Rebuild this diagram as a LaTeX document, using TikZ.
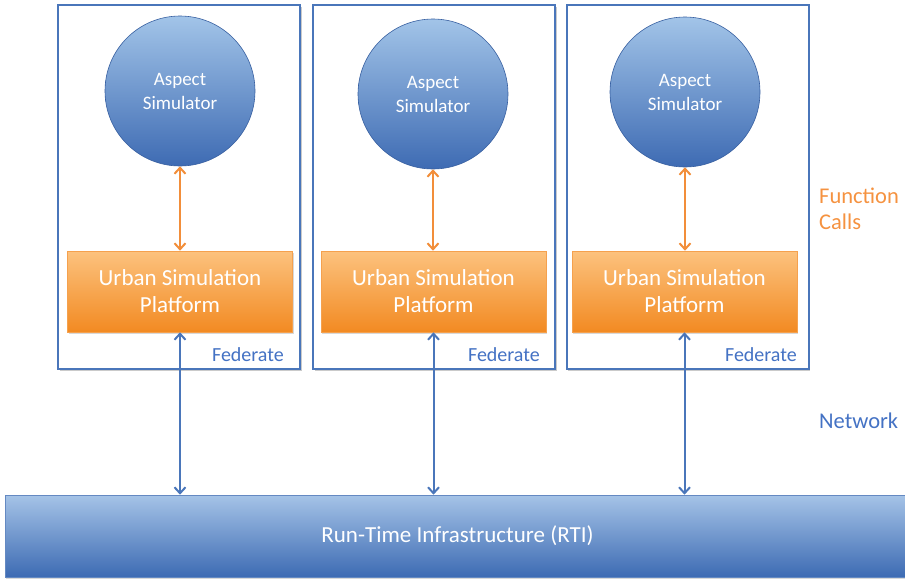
\documentclass[tikz,border=0pt]{standalone}
\usepackage{fontspec}
\setmainfont{Carlito}
\usetikzlibrary{arrows.meta,shadows,calc}
\definecolor{fedblue}{HTML}{4A76BA}
\definecolor{txtblue}{HTML}{4472C4}
\definecolor{circtop}{HTML}{A2C4E8}
\definecolor{circbot}{HTML}{3E6BB3}
\definecolor{ortop}{HTML}{FCC27E}
\definecolor{orbot}{HTML}{F28A22}
\definecolor{orline}{HTML}{F28E3A}
\definecolor{ortxt}{HTML}{F59240}
\definecolor{rtitop}{HTML}{A5C3E7}
\definecolor{rtibot}{HTML}{3D6BB3}
\tikzset{
  fedbox/.style={draw=fedblue, line width=2pt, fill=white, minimum width=242pt, minimum height=364pt, inner sep=0pt,
     drop shadow={shadow xshift=1.5pt, shadow yshift=-1.5pt, opacity=0.35, fill=black!60}},
  aspect/.style={circle, minimum size=150pt, inner sep=0pt, draw=circbot!90!black, line width=0.6pt,
     top color=circtop, bottom color=circbot, text=white, font=\fontsize{19}{24}\selectfont, align=center},
  platform/.style={rectangle, minimum width=225pt, minimum height=81pt, inner sep=0pt, draw=orbot!80!white, line width=0.6pt,
     top color=ortop, bottom color=orbot, text=white, font=\fontsize{23}{27}\selectfont, align=center,
     drop shadow={shadow xshift=1pt, shadow yshift=-1.5pt, opacity=0.3, fill=black!50}},
  rtibox/.style={rectangle, minimum width=905pt, minimum height=82pt, inner sep=0pt, draw=rtibot!80!white, line width=0.6pt,
     top color=rtitop, bottom color=rtibot, text=white, font=\fontsize{23}{27}\selectfont,
     drop shadow={shadow xshift=1pt, shadow yshift=-1.5pt, opacity=0.3, fill=black!50}},
  fedlabel/.style={text=txtblue, font=\fontsize{20}{24}\selectfont, anchor=base east, inner sep=0pt},
  sidelabel/.style={font=\fontsize{22.5}{26}\selectfont, anchor=base west, inner sep=0pt, align=left},
  fcall/.style={draw=orline, line width=2pt, {Straight Barb[length=6pt,width=11pt]}-{Straight Barb[length=6pt,width=11pt]}},
  netarrow/.style={draw=fedblue, line width=2pt, {Straight Barb[length=6pt,width=11pt]}-{Straight Barb[length=6pt,width=11pt]}}
}
\begin{document}
\begin{tikzpicture}[x=1pt,y=-1pt]
\useasboundingbox (0,0) rectangle (905,579);
% federate boxes
\node[fedbox] (f1) at (179,187) {};
\node[fedbox] (f2) at (434,187) {};
\node[fedbox] (f3) at (687.5,187) {};
% RTI
\node[rtibox] (rti) at (457.5,536) {Run-Time Infrastructure (RTI)};
% aspect simulators
\node[aspect] (a1) at (180,91) {Aspect\\Simulator};
\node[aspect] (a2) at (433,94) {Aspect\\Simulator};
\node[aspect] (a3) at (685,92) {Aspect\\Simulator};
% platforms
\node[platform] (p1) at (180,291.5) {Urban Simulation\\Platform};
\node[platform] (p2) at (433.5,291.5) {Urban Simulation\\Platform};
\node[platform] (p3) at (684.5,291.5) {Urban Simulation\\Platform};
% federate labels
\node[fedlabel] (l1) at (284,361) {Federate};
\node[fedlabel] (l2) at (540,361) {Federate};
\node[fedlabel] (l3) at (797,361) {Federate};
% side labels
\node[sidelabel, text=ortxt] (fc) at (819,229) {Function\\Calls};
\node[sidelabel, text=txtblue] (nw) at (819,428) {Network};
% arrows
\foreach \i in {1,2,3}{
  \draw[fcall] (a\i.south) -- (a\i.south |- p\i.north);
  \draw[netarrow] (p\i.south) -- (p\i.south |- rti.north);
}
\end{tikzpicture}
\end{document}
